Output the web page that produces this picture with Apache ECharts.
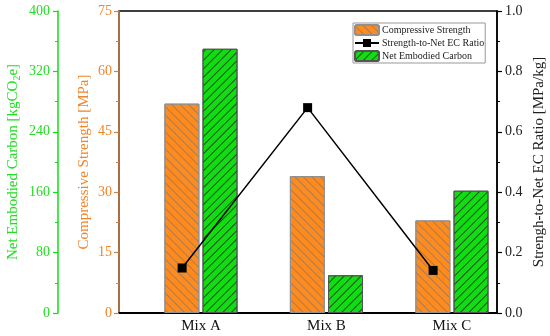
<!DOCTYPE html>
<html><head><meta charset="utf-8">
<script src="https://cdn.jsdelivr.net/npm/echarts@6/dist/echarts.min.js"></script>
<style>html,body{margin:0;padding:0;background:#fff}#c{width:550px;height:336px}</style>
</head><body><div id="c"></div>
<script>
var categories = ['Mix A', 'Mix B', 'Mix C'];
var strength = [52, 34, 23];
var embodiedCarbon = [350, 50, 162];
var ratio = [0.149, 0.68, 0.141];
var strengthTicks = [0, 15, 30, 45, 60, 75];
var carbonTicks = [0, 80, 160, 240, 320, 400];
var ratioTicks = [0, 0.2, 0.4, 0.6, 0.8, 1.0];

var FONT = 'Liberation Serif';
var ORANGE = '#FF8A1E', ORANGE_TXT = '#F0852A', ORANGE_AX = '#CC8048';
var GREEN = '#12DD12', GREEN_TXT = '#22DD22';

function pts(arr){ return arr.map(function(v,i){ return [i+1, v]; }); }

var chart = echarts.init(document.getElementById('c'), null, {renderer:'canvas'});
chart.setOption({
  animation: false,
  backgroundColor: '#fff',
  grid: {left: 119, right: 53, top: 11, bottom: 23, containLabel: false, outerBoundsMode: 'none',
    show: true, borderColor: '#000', borderWidth: 1.5, backgroundColor: 'transparent'},
  legend: {
    orient: 'vertical', left: 353, top: 23,
    data: ['Compressive Strength', 'Strength-to-Net EC Ratio', 'Net Embodied Carbon'],
    borderColor: '#999', borderWidth: 1, padding: [1, 1, 1, 1], itemGap: 2,
    itemWidth: 24, itemHeight: 10, backgroundColor: '#fff',
    textStyle: {fontFamily: FONT, fontSize: 10, color: '#222', padding: [0,0,0,-2]}
  },
  xAxis: [{
    type: 'value', min: 0.347, max: 3.359, position: 'bottom',
    axisLine: {show: true, lineStyle: {color: '#000', width: 1.8}},
    axisTick: {show: false}, splitLine: {show: false},
    axisLabel: {customValues: [1, 2, 3], formatter: function(v){ return categories[Math.round(v)-1] || ''; },
      fontFamily: FONT, fontSize: 15, color: '#111', margin: 6}
  }, {
    type: 'value', min: 0.497, max: 3.509, show: false
  }],
  yAxis: [{
    type: 'value', position: 'left', min: 0, max: 75, interval: 15,
    axisLine: {show: true, lineStyle: {color: ORANGE_AX, width: 1.5}},
    axisTick: {show: true, inside: false, length: 5, lineStyle: {color: ORANGE_AX, width: 1.2}},
    minorTick: {show: true, splitNumber: 2, length: 3, lineStyle: {color: ORANGE_AX}},
    splitLine: {show: false},
    axisLabel: {fontFamily: FONT, fontSize: 14, color: ORANGE_TXT, margin: 7},
    name: 'Compressive Strength [MPa]', nameLocation: 'middle', nameRotate: 90, nameGap: 27, nameMoveOverlap: false,
    nameTextStyle: {fontFamily: FONT, fontSize: 15, color: ORANGE_TXT}
  }, {
    type: 'value', position: 'left', offset: 61, min: 0, max: 400, interval: 80,
    axisLine: {show: true, lineStyle: {color: GREEN, width: 1.5}},
    axisTick: {show: true, inside: false, length: 5, lineStyle: {color: GREEN, width: 1.2}},
    minorTick: {show: true, splitNumber: 2, length: 3, lineStyle: {color: GREEN}},
    splitLine: {show: false},
    axisLabel: {fontFamily: FONT, fontSize: 14, color: GREEN_TXT, margin: 8},
    name: 'Net Embodied Carbon [kgCO{s|2}e]', nameLocation: 'middle', nameRotate: 90, nameGap: 36, nameMoveOverlap: false,
    nameTextStyle: {fontFamily: FONT, fontSize: 15, color: GREEN_TXT,
      rich: {s: {fontFamily: FONT, fontSize: 10, color: GREEN_TXT, padding: [8, 0, 0, 0]}}}
  }, {
    type: 'value', position: 'right', min: 0, max: 1, interval: 0.2,
    axisLine: {show: true, lineStyle: {color: '#000', width: 1.5}},
    axisTick: {show: true, inside: false, length: 5, lineStyle: {color: '#000', width: 1.2}},
    minorTick: {show: true, splitNumber: 2, length: 3, lineStyle: {color: '#000'}},
    splitLine: {show: false},
    axisLabel: {fontFamily: FONT, fontSize: 14, color: '#222', margin: 8, formatter: function(v){ return v.toFixed(1); }},
    name: 'Strengh-to-Net EC Ratio [MPa/kg]', nameLocation: 'middle', nameRotate: 90, nameGap: 35, nameMoveOverlap: false,
    nameTextStyle: {fontFamily: FONT, fontSize: 15, color: '#222'}
  }],
  series: [{
    name: 'Compressive Strength', type: 'bar', xAxisIndex: 0, yAxisIndex: 0,
    data: pts(strength), barWidth: 35, barGap: '9%',
    itemStyle: {color: ORANGE, borderColor: '#909090', borderWidth: 1,
      decal: {symbol: 'rect', symbolSize: 1, dashArrayX: [1, 0], dashArrayY: [1, 5], rotation: Math.PI/4, color: 'rgba(130,120,110,0.7)'}}
  }, {
    name: 'Net Embodied Carbon', type: 'bar', xAxisIndex: 0, yAxisIndex: 1,
    data: pts(embodiedCarbon), barWidth: 35,
    itemStyle: {color: GREEN, borderColor: '#555', borderWidth: 1,
      decal: {symbol: 'rect', symbolSize: 1, dashArrayX: [1, 0], dashArrayY: [1, 5], rotation: -Math.PI/4, color: 'rgba(20,60,20,0.85)'}}
  }, {
    name: 'Strength-to-Net EC Ratio', type: 'line', xAxisIndex: 1, yAxisIndex: 2,
    data: pts(ratio), symbol: 'rect', symbolSize: 9, z: 5,
    lineStyle: {color: '#000', width: 1.5}, itemStyle: {color: '#000'}
  }]
});
</script></body></html>
